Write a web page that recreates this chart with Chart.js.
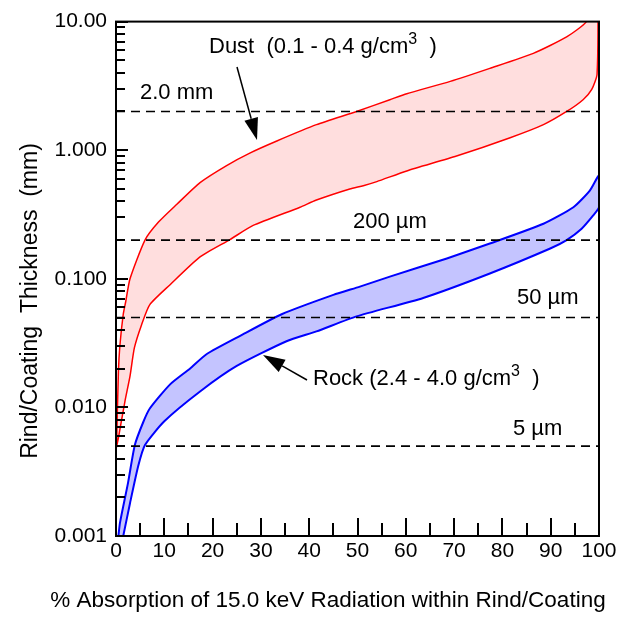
<!DOCTYPE html>
<html>
<head>
<meta charset="utf-8">
<script src="https://cdn.jsdelivr.net/npm/chart.js@4"></script>
<style>
  html, body { margin: 0; padding: 0; background: #fff; }
  canvas { display: block; }
</style>
</head>
<body>
<canvas id="rindChart" width="628" height="618"></canvas>
<script>
// values (% absorbed vs thickness in mm)
const dustUpperX = [0.1, 0.5, 0.8, 1.5, 2.0, 2.9, 6.0, 8.8, 12.6, 17.4, 22.9, 27.7, 33.3, 41.5, 49.8, 56.7, 60.2, 69.2, 77.4, 86.4, 93.3, 97.4, 99.6];
const dustUpperY = [0.0049, 0.019, 0.030, 0.053, 0.066, 0.10, 0.20, 0.276, 0.38, 0.56, 0.76, 0.95, 1.18, 1.58, 2.0, 2.47, 2.75, 3.43, 4.33, 5.66, 7.6, 10.0, 16];
const dustLowerX = [0.1, 0.5, 1.86, 2.9, 3.8, 5.3, 7.0, 11.2, 17.4, 23.6, 28.4, 38.1, 41.5, 48.4, 51.2, 54, 60.2, 70.5, 81.6, 88.5, 93.3, 96.7, 98.5, 99.6];
const dustLowerY = [0.0049, 0.0058, 0.0112, 0.0175, 0.029, 0.044, 0.063, 0.09, 0.148, 0.202, 0.26, 0.36, 0.41, 0.50, 0.53, 0.57, 0.69, 0.90, 1.25, 1.58, 2.0, 2.47, 2.97, 3.9];
const rockUpperX = [0.5, 0.83, 2.5, 3.9, 5.65, 7.0, 11.2, 15.3, 18.8, 25.7, 34.3, 45, 50.5, 56.7, 68.5, 77.4, 88.5, 94.7, 98.1, 100];
const rockUpperY = [0.001, 0.00127, 0.0026, 0.0051, 0.0077, 0.0098, 0.0151, 0.020, 0.026, 0.036, 0.053, 0.075, 0.087, 0.104, 0.144, 0.188, 0.268, 0.36, 0.485, 0.634];
const rockLowerX = [1.5, 2.9, 4.6, 6.0, 10.0, 17.4, 25, 35.3, 41.5, 49.8, 63.6, 77.4, 89.9, 93.3, 96.4, 98.8, 100];
const rockLowerY = [0.001, 0.0018, 0.0035, 0.0051, 0.0078, 0.0133, 0.021, 0.0327, 0.039, 0.051, 0.071, 0.11, 0.172, 0.20, 0.245, 0.311, 0.36];
const refLevels = [2.0, 0.2, 0.05, 0.005];
const xTicks = [0, 10, 20, 30, 40, 50, 60, 70, 80, 90, 100];
const yTickValues = [0.001, 0.01, 0.1, 1, 10];
const yTickLabels = ['0.001', '0.010', '0.100', '1.000', '10.00'];

const FONT = 'Liberation Sans';

// band outline = upper curve out, lower curve back
function band(ux, uy, lx, ly) {
    const pts = ux.map((x, i) => ({x: x, y: uy[i]}));
    for (let i = lx.length - 1; i >= 0; i--) pts.push({x: lx[i], y: ly[i]});
    return pts;
}

const refSets = refLevels.map(v => ({
    data: [{x: 0, y: v}, {x: 100, y: v}],
    borderColor: '#000',
    borderWidth: 1.6,
    borderDash: [9, 6],
    pointRadius: 0,
    tension: 0,
    fill: false,
    order: 1
}));

function arrow(ctx, x1, y1, x2, y2) {
    const a = Math.atan2(y2 - y1, x2 - x1);
    const len = 22, w = 7;
    const bx = x2 - len * Math.cos(a), by = y2 - len * Math.sin(a);
    ctx.beginPath();
    ctx.moveTo(x1, y1);
    ctx.lineTo(bx, by);
    ctx.stroke();
    ctx.beginPath();
    ctx.moveTo(x2, y2);
    ctx.lineTo(bx + w * Math.sin(a), by - w * Math.cos(a));
    ctx.lineTo(bx - w * Math.sin(a), by + w * Math.cos(a));
    ctx.closePath();
    ctx.fill();
}

function labelWithCube(ctx, before, after, x, y) {
    ctx.font = '22px "' + FONT + '"';
    ctx.fillText(before, x, y);
    let w = ctx.measureText(before).width;
    ctx.font = '16px "' + FONT + '"';
    ctx.fillText('3', x + w, y - 7);
    w += ctx.measureText('3').width;
    ctx.font = '22px "' + FONT + '"';
    ctx.fillText(after, x + w, y);
}

const decorations = {
    id: 'decorations',
    afterDatasetsDraw(chart) {
        const ctx = chart.ctx;
        const a = chart.chartArea;
        const xs = chart.scales.x, ys = chart.scales.y;
        ctx.save();
        ctx.strokeStyle = '#000';
        ctx.fillStyle = '#000';
        ctx.lineWidth = 2;
        ctx.strokeRect(a.left, a.top, a.right - a.left, a.bottom - a.top);

        // inside ticks, y (log) axis
        ctx.beginPath();
        for (let e = -3; e <= 1; e++) {
            for (let m = 1; m <= 9; m++) {
                const v = m * Math.pow(10, e);
                if (v > 10.0001) continue;
                const py = Math.round(ys.getPixelForValue(v));
                const len = m === 1 ? 12 : 9;
                ctx.moveTo(a.left, py);
                ctx.lineTo(a.left + len, py);
            }
        }
        // inside ticks, x axis
        for (let v = 5; v < 100; v += 5) {
            const px = Math.round(xs.getPixelForValue(v));
            const len = v % 10 === 0 ? 18 : 13;
            ctx.moveTo(px, a.bottom);
            ctx.lineTo(px, a.bottom - len);
        }
        ctx.stroke();

        // annotations
        ctx.textBaseline = 'middle';
        ctx.textAlign = 'left';
        labelWithCube(ctx, 'Dust  (0.1 - 0.4 g/cm', '  )', 209, 47);
        labelWithCube(ctx, 'Rock (2.4 - 4.0 g/cm', '  )', 313, 379);
        ctx.font = '22px "' + FONT + '"';
        ctx.fillText('2.0 mm', 140, 93);
        ctx.fillText('200 \u00b5m', 353, 222);
        ctx.fillText('50 \u00b5m', 517, 298);
        ctx.fillText('5 \u00b5m', 513, 429);
        ctx.lineWidth = 1.5;
        arrow(ctx, 237, 67, 257, 140);
        arrow(ctx, 307, 380, 263, 355);

        // axis titles
        ctx.font = '22.5px "' + FONT + '"';
        ctx.textAlign = 'center';
        ctx.fillText('% Absorption of 15.0 keV Radiation within Rind/Coating', 328, 601);
        ctx.translate(31, 301);
        ctx.rotate(-Math.PI / 2);
        ctx.font = '23px "' + FONT + '"';
        ctx.fillText('Rind/Coating  Thickness  (mm)', 0, 0);
        ctx.restore();
    }
};

new Chart(document.getElementById('rindChart'), {
    type: 'line',
    data: {
        datasets: refSets.concat([
            {
                data: band(dustUpperX, dustUpperY, dustLowerX, dustLowerY),
                borderColor: '#ff0000',
                borderWidth: 1.5,
                backgroundColor: 'rgba(255, 0, 0, 0.13)',
                pointRadius: 0,
                tension: 0.2,
                fill: 'shape',
                order: 2
            },
            {
                data: band(rockUpperX, rockUpperY, rockLowerX, rockLowerY),
                borderColor: '#0000ff',
                borderWidth: 2,
                backgroundColor: 'rgba(0, 0, 255, 0.23)',
                pointRadius: 0,
                tension: 0.2,
                fill: 'shape',
                order: 2
            }
        ])
    },
    options: {
        responsive: false,
        animation: false,
        devicePixelRatio: 1,
        layout: { padding: { top: 18, right: 29, left: 0, bottom: 0 } },
        plugins: { legend: { display: false }, tooltip: { enabled: false } },
        scales: {
            x: {
                type: 'linear',
                min: 0,
                max: 100,
                grid: { display: false, tickLength: 0 },
                border: { display: false },
                afterBuildTicks: s => { s.ticks = xTicks.map(v => ({value: v})); },
                ticks: { color: '#000', font: { family: FONT, size: 21 }, padding: 3, maxRotation: 0, autoSkip: false },
                afterFit: s => { s.height = 82; }
            },
            y: {
                type: 'logarithmic',
                min: 0.001,
                max: 10,
                grid: { display: false, tickLength: 0 },
                border: { display: false },
                afterBuildTicks: s => { s.ticks = yTickValues.map(v => ({value: v, major: true})); },
                ticks: {
                    color: '#000',
                    font: { family: FONT, size: 21 },
                    padding: 9,
                    autoSkip: false,
                    callback: v => yTickLabels[yTickValues.indexOf(v)]
                },
                afterFit: s => { s.width = 116; }
            }
        }
    },
    plugins: [decorations]
});
</script>
</body>
</html>
